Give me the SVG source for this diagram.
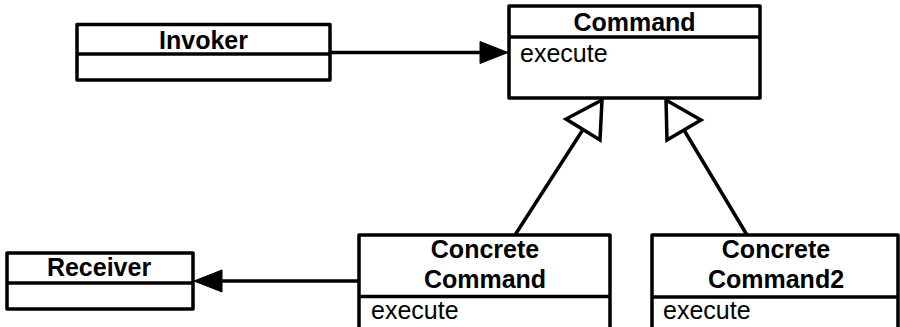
<svg xmlns="http://www.w3.org/2000/svg" width="900" height="327" viewBox="0 0 900 327">
<style>
.box{fill:#fff;stroke:#000;stroke-width:3.5;stroke-linejoin:round}
.div{stroke:#000;stroke-width:3.5}
.t{font-family:"Liberation Sans",Arial,Helvetica,sans-serif;font-size:25px;font-weight:bold;text-anchor:middle;fill:#000}
.m{font-family:"Liberation Sans",Arial,Helvetica,sans-serif;font-size:25px;fill:#000}
.ln{stroke:#000;stroke-width:3.5;fill:none}
.fh{fill:#000;stroke:#000;stroke-width:1}
.oh{fill:#fff;stroke:#000;stroke-width:3.5;stroke-linejoin:miter}
</style>
<rect width="900" height="327" fill="#fff"/>
<g id="connectors">
<line class="ln" x1="330" y1="52.5" x2="484" y2="52.5"/>
<polygon class="fh" points="508,52.5 480,41.5 480,63.5"/>
<line class="ln" x1="359" y1="281" x2="218" y2="281"/>
<polygon class="fh" points="194,281 222,270 222,292"/>
<line class="ln" x1="583" y1="129.5" x2="515" y2="235"/>
<polygon class="oh" points="602,100 600,140 566,119"/>
<line class="ln" x1="684" y1="130" x2="747" y2="235"/>
<polygon class="oh" points="666,100 667,140 701,120"/>
</g>
<g id="invoker">
<rect class="box" x="77" y="24.5" width="253" height="55.5"/>
<line class="div" x1="77" y1="54" x2="330" y2="54"/>
<text class="t" x="203.5" y="48.5">Invoker</text>
</g>
<g id="command">
<rect class="box" x="509" y="6" width="251" height="92"/>
<line class="div" x1="509" y1="37" x2="760" y2="37"/>
<text class="t" x="634.5" y="31">Command</text>
<text class="m" x="520" y="61.5">execute</text>
</g>
<g id="receiver">
<rect class="box" x="7" y="253" width="186" height="56"/>
<line class="div" x1="7" y1="283" x2="193" y2="283"/>
<text class="t" x="99" y="276">Receiver</text>
</g>
<g id="concretecommand">
<rect class="box" x="359" y="235" width="251" height="105"/>
<line class="div" x1="359" y1="296.5" x2="610" y2="296.5"/>
<text class="t" x="485" y="258">Concrete</text>
<text class="t" x="485" y="288">Command</text>
<text class="m" x="371" y="319">execute</text>
</g>
<g id="concretecommand2">
<rect class="box" x="652" y="235" width="246" height="105"/>
<line class="div" x1="652" y1="297" x2="898" y2="297"/>
<text class="t" x="776" y="258">Concrete</text>
<text class="t" x="776" y="288">Command2</text>
<text class="m" x="663" y="319">execute</text>
</g>
</svg>
